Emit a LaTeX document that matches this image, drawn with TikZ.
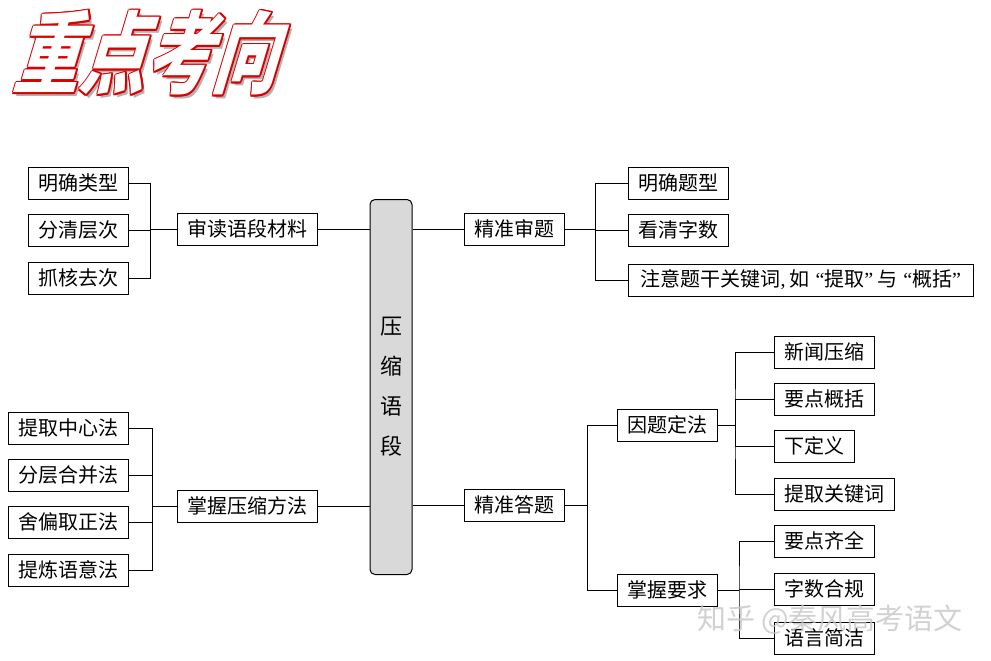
\documentclass[tikz,border=0pt]{standalone}
\usepackage{fontspec}
\setmainfont{Noto Sans CJK SC}
\newfontfamily\latin{Liberation Serif}
\usetikzlibrary{positioning,calc}

\tikzset{
	box/.style={draw, line width=1pt, inner xsep=10pt, inner ysep=0pt,
		minimum height=32pt, font=\fontsize{20}{20}\selectfont},
	core/.style={draw, line width=1pt, rounded corners=5pt, fill=gray!30,
		minimum width=42pt, minimum height=375pt, align=center,
		font=\fontsize{22}{40}\selectfont},
	link/.style={line width=1pt},
	titlefont/.style={font=\fontsize{66}{66}\selectfont\bfseries, inner sep=0pt}
}

\begin{document}
\begin{tikzpicture}[x=1pt, y=-1pt]
	% параметры
	\def\T{重点考向} % заголовок
	\def\d{1.2}      % толщина красного контура

	\useasboundingbox (0,0) rectangle (991,661);

	% заголовок: тень, красный контур, белая заливка
	\begin{scope}[shift={(155,53)}, xslant=0.3, yscale=1.35, transform shape]
		\node[titlefont, text=gray!60] at (4,3) {\T};
		\foreach \dx/\dy in {-\d/0, \d/0, 0/-\d, 0/\d, -\d/-\d, \d/\d, -\d/\d, \d/-\d}
			\node[titlefont, text=red!85!black] at (\dx,\dy) {\T};
		\node[titlefont, text=white] (title) at (0,0) {\T};
	\end{scope}

	% центральный блок
	\node[core] (core) at (391,387) {压\\缩\\语\\段};

	% левая верхняя ветвь
	\node[box] (shendu) at (247,229) {审读语段材料};
	\node[box, anchor=east] (mqlx) at (129,183) {明确类型};
	\node[box, anchor=east] (fqcc) at (129,230) {分清层次};
	\node[box, anchor=east] (zhqc) at (129,278) {抓核去次};

	% левая нижняя ветвь
	\node[box] (fangfa) at (247,506) {掌握压缩方法};
	\node[box, anchor=east] (tqzx) at (129,428) {提取中心法};
	\node[box, anchor=east] (fchb) at (129,475) {分层合并法};
	\node[box, anchor=east] (spqz) at (129,522) {舍偏取正法};
	\node[box, anchor=east] (tlyy) at (129,570) {提炼语意法};

	% правая верхняя ветвь
	\node[box] (shenti) at (514,229) {精准审题};
	\node[box, anchor=west] (mqtx) at (628,183) {明确题型};
	\node[box, anchor=west] (kqzs) at (628,230) {看清字数};
	\node[box, anchor=west, inner xsep=12pt] (zytg) at (628,280)
		{注意题干关键词{\latin,}\hspace{4pt}如\hspace{6pt}{\latin “}提取{\latin ”}\hspace{4pt}与\hspace{6pt}{\latin “}概括{\latin ”}};

	% правая нижняя ветвь
	\node[box] (dati) at (514,505) {精准答题};
	\node[box, anchor=west] (ytdf) at (617,425) {因题定法};
	\node[box, anchor=west] (zwyq) at (617,590) {掌握要求};
	\node[box, anchor=west] (xwys) at (774,352) {新闻压缩};
	\node[box, anchor=west] (ydgk) at (774,399) {要点概括};
	\node[box, anchor=west] (xdy)  at (774,446) {下定义};
	\node[box, anchor=west] (tqgj) at (774,494) {提取关键词};
	\node[box, anchor=west] (ydqq) at (774,541) {要点齐全};
	\node[box, anchor=west] (zshg) at (774,589) {字数合规};
	\node[box, anchor=west] (yyjj) at (774,638) {语言简洁};

	% связи с центральным блоком
	\draw[link] (shendu.east) -- (shendu.east -| core.west);
	\draw[link] (fangfa.east) -- (fangfa.east -| core.west);
	\draw[link] (core.east |- shenti.west) -- (shenti.west);
	\draw[link] (core.east |- dati.west) -- (dati.west);

	% скобки слева
	\draw[link] (shendu.west) -- ++(-26,0) coordinate (j1);
	\draw[link] (mqlx.east) -| (j1) |- (zhqc.east);
	\draw[link] (fqcc.east) -| (j1);

	\draw[link] (fangfa.west) -- ++(-24,0) coordinate (j2);
	\draw[link] (tqzx.east) -| (j2) |- (tlyy.east);
	\draw[link] (fchb.east) -| (j2);
	\draw[link] (spqz.east) -| (j2);

	% скобки справа
	\draw[link] (shenti.east) -- ++(31,0) coordinate (j3);
	\draw[link] (mqtx.west) -| (j3) |- (zytg.west);
	\draw[link] (kqzs.west) -| (j3);

	\draw[link] (dati.east) -- ++(23,0) coordinate (j4);
	\draw[link] (ytdf.west) -| (j4) |- (zwyq.west);

	\draw[link] (ytdf.east) -- ++(17,0) coordinate (j5);
	\draw[link] (xwys.west) -| (j5) |- (tqgj.west);
	\draw[link] (ydgk.west) -| (j5);
	\draw[link] (xdy.west) -| (j5);

	\draw[link] (zwyq.east) -- ++(21,0) coordinate (j6);
	\draw[link] (ydqq.west) -| (j6) |- (yyjj.west);
	\draw[link] (zshg.west) -| (j6);

	% водяной знак
	\node[text=gray!45, opacity=0.8, font=\fontsize{29}{29}\selectfont] (wm) at (830,620) {知乎 @秦风高考语文};
\end{tikzpicture}
\end{document}
